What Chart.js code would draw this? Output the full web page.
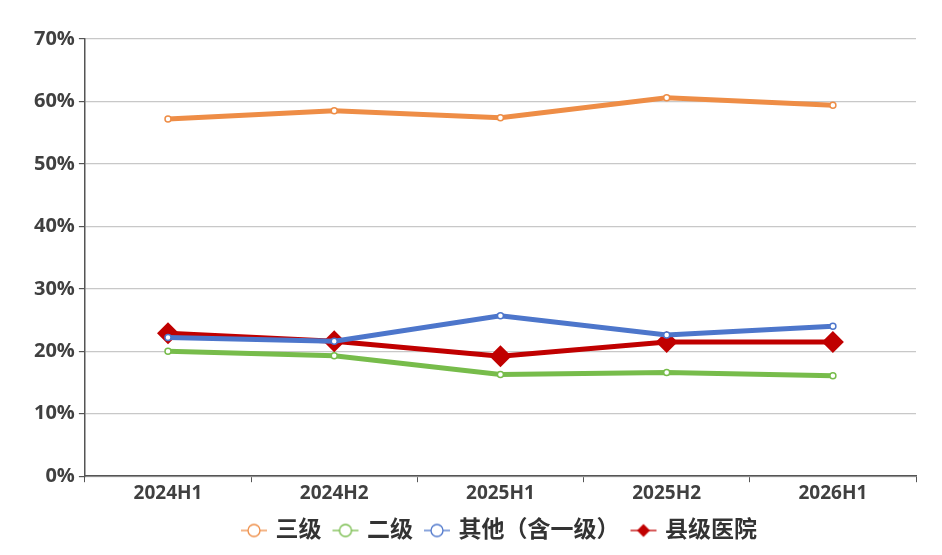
<!DOCTYPE html>
<html><head><meta charset="utf-8">
<script src="https://cdn.jsdelivr.net/npm/chart.js@4"></script>
<style>html,body{margin:0;padding:0;background:#fff}#wrap{width:942px;height:555px;position:relative}</style>
</head><body><div id="wrap"><canvas id="c"></canvas></div>
<script>
const categories = ['2024H1','2024H2','2025H1','2025H2','2026H1'];
const seriesNames = ['三级','二级','其他（含一级）','县级医院'];
const tertiary = [57.2, 58.5, 57.4, 60.6, 59.4];
const secondary = [20.0, 19.3, 16.3, 16.6, 16.1];
const others = [22.2, 21.6, 25.7, 22.6, 24.0];
const county = [22.9, 21.6, 19.2, 21.5, 21.5];
const yMin = 0, yMax = 70, yStep = 10;

const colors = ['#EE8D46', '#77BC4B', '#4D76CB', '#C00000'];
const FONT = "'Open Sans','Noto Sans CJK SC',sans-serif";

function makeIcon(color, diamond) {
  const cv = document.createElement('canvas');
  cv.width = 28; cv.height = 22;
  const g = cv.getContext('2d');
  g.strokeStyle = color; g.lineWidth = 1.3;
  g.beginPath(); g.moveTo(1, 11); g.lineTo(27, 11); g.stroke();
  if (diamond) {
    g.fillStyle = color;
    g.beginPath(); g.moveTo(14, 4.5); g.lineTo(20.5, 11); g.lineTo(14, 17.5); g.lineTo(7.5, 11); g.closePath(); g.fill();
  } else {
    g.fillStyle = '#fff';
    g.beginPath(); g.arc(14, 11, 6, 0, Math.PI * 2); g.fill(); g.stroke();
  }
  return cv;
}

const seriesData = [tertiary, secondary, others, county];
const datasets = seriesData.map((d, i) => {
  const isRed = i === 3;
  return {
    label: seriesNames[i],
    data: d,
    borderColor: colors[i],
    backgroundColor: isRed ? colors[i] : '#fff',
    borderWidth: 5,
    tension: 0,
    pointStyle: isRed ? 'rectRot' : 'circle',
    pointRadius: isRed ? 11 : 3,
    pointBorderWidth: isRed ? 0 : 1.5,
    pointBackgroundColor: isRed ? colors[i] : '#fff',
    pointBorderColor: colors[i],
    pointHoverRadius: isRed ? 11 : 3
  };
});

new Chart(document.getElementById('c'), {
  type: 'line',
  data: { labels: categories, datasets },
  options: {
    responsive: true,
    maintainAspectRatio: false,
    animation: false,
    layout: { padding: { top: 39, right: 26, left: 30, bottom: 3 } },
    plugins: {
      tooltip: { enabled: false },
      legend: {
        position: 'bottom',
        fullSize: false,
        labels: {
          usePointStyle: true,
          pointStyleWidth: 20,
          padding: 14,
          color: '#333',
          font: { family: FONT, size: 23, weight: 'bold' },
          generateLabels: (chart) => chart.data.datasets.map((ds, i) => ({
            text: ds.label,
            fillStyle: colors[i],
            strokeStyle: colors[i],
            lineWidth: 0,
            pointStyle: makeIcon(colors[i], i === 3),
            hidden: false,
            datasetIndex: i,
            fontColor: '#333'
          }))
        }
      }
    },
    scales: {
      x: {
        offset: true,
        grid: { display: true, offset: true, drawOnChartArea: false, drawTicks: true, tickLength: 6, tickColor: '#555' },
        border: { display: true, color: '#555', width: 1.5 },
        ticks: { color: '#404040', padding: 0, font: { family: FONT, size: 19, weight: 'bold' } }
      },
      y: {
        min: yMin, max: yMax,
        grid: { color: '#c8c8c8', lineWidth: 1.2, drawTicks: true, tickLength: 6, tickColor: '#555' },
        border: { display: true, color: '#555', width: 1.5 },
        ticks: { stepSize: yStep, color: '#404040', padding: 4, font: { family: FONT, size: 20, weight: 'bold' }, callback: v => v + '%' }
      }
    }
  }
});
</script>
</body></html>
